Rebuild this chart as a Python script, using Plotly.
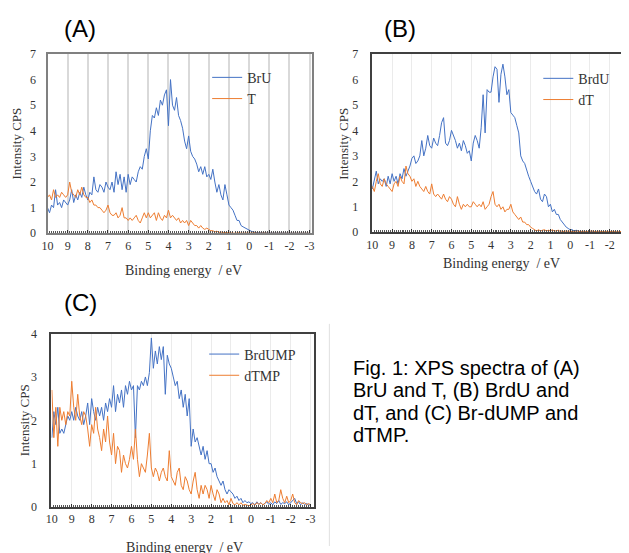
import numpy as np
import plotly.graph_objects as go

# binding energy grid, 10 eV down to -3 eV in 0.1 eV steps
energy = np.round(np.linspace(10, -3, 131), 1)
tick_vals = [10, 9, 8, 7, 6, 5, 4, 3, 2, 1, 0, -1, -2, -3]
tick_text = ["10", "9", "8", "7", "6", "5", "4", "3", "2", "1", "0", "-1", "-2", "-3"]

# (A) BrU and T
bru = [1.0, 0.8, 1.1, 1.0, 1.7, 1.1, 1.2, 1.0, 1.3, 1.2,
       1.1, 1.3, 1.7, 1.2, 1.5, 1.3, 1.6, 1.4, 1.8, 1.5,
       1.3, 1.6, 1.5, 2.2, 1.7, 1.6, 1.9, 1.8, 1.6, 2.0,
       1.8, 1.7, 2.0, 1.6, 2.4, 1.9, 2.3, 1.7, 2.2, 1.6,
       2.3, 1.9, 2.2, 2.1, 2.0, 2.4, 2.6, 2.5, 3.0, 3.3,
       2.9, 4.0, 4.6, 4.5, 4.9, 4.6, 5.2, 5.0, 5.4, 5.6,
       4.2, 6.0, 5.0, 4.8, 5.3, 4.6, 4.4, 4.1, 3.6, 3.3,
       3.8, 3.2, 3.0, 2.9, 2.7, 2.4, 2.6, 2.3, 2.6, 2.2,
       2.3, 2.1, 2.5, 2.0, 1.6, 1.9, 1.5, 1.3, 1.9, 1.5,
       1.1, 1.0, 0.9, 0.7, 0.5, 0.5, 0.3, 0.25, 0.2, 0.15,
       0.1, 0.08, 0.05, 0.03, 0.02, 0.02, 0.01, 0.02, 0.01, 0.01,
       0.01, 0.0, 0.01, 0.0, 0.01, 0.0, 0.01, 0.0, 0.0, 0.01,
       0.0, 0.01, 0.0, 0.0, 0.01, 0.0, 0.0, 0.01, 0.0, 0.0,
       0.0]
t = [1.4, 1.5, 1.3, 1.7, 1.4, 1.5, 1.4, 1.6, 1.5, 1.4,
     1.5, 2.0, 1.6, 1.5, 1.4, 1.7, 1.5, 1.8, 1.5, 1.4,
     1.4, 1.2, 1.3, 1.1, 1.1, 1.0, 1.0, 0.9, 0.8, 0.9,
     1.1, 0.8, 0.7, 0.7, 0.8, 0.6, 0.7, 1.0, 0.6, 0.6,
     0.5, 0.6, 0.5, 0.6, 0.7, 0.5, 0.4, 0.6, 0.8, 0.6,
     0.8, 0.6, 0.7, 0.8, 0.5, 0.8, 0.6, 0.5, 0.7, 0.6,
     0.9, 0.6, 0.7, 0.6, 0.5, 0.6, 0.4, 0.5, 0.4, 0.5,
     0.3, 0.5, 0.4, 0.3, 0.3, 0.2, 0.3, 0.2, 0.15, 0.2,
     0.15, 0.1, 0.1, 0.05, 0.08, 0.03, 0.05, 0.02, 0.03, 0.02,
     0.02, 0.01, 0.02, 0.0, 0.01, 0.02, 0.0, 0.01, 0.0, 0.01,
     0.0, 0.01, 0.0, 0.02, 0.0, 0.01, 0.0, 0.0, 0.01, 0.0,
     0.0, 0.01, 0.0, 0.0, 0.01, 0.0, 0.0, 0.01, 0.0, 0.0,
     0.01, 0.0, 0.0, 0.01, 0.0, 0.0, 0.01, 0.0, 0.0, 0.0,
     0.0]

# (B) BrdU and dT
brdu = [1.7, 2.0, 2.4, 1.9, 2.1, 2.0, 2.1, 1.8, 2.2, 1.9,
        2.3, 2.0, 2.2, 1.9, 2.3, 2.1, 2.5, 2.2, 2.4, 2.6,
        2.9, 3.0, 2.7, 2.8, 3.0, 3.6, 3.0, 3.3, 3.8, 3.4,
        3.3, 3.7, 3.5, 3.4, 3.8, 4.3, 4.5, 3.5, 3.4, 3.6,
        4.0, 3.8, 3.6, 3.3, 3.5, 3.2, 3.6, 3.4, 3.1, 3.2,
        2.8, 3.5, 3.8, 3.6, 3.3, 4.1, 5.4, 3.9, 5.6, 5.5,
        5.5, 6.1, 6.5, 6.4, 5.1, 6.2, 6.6, 6.1, 5.4, 5.6,
        4.7, 4.6, 4.5, 4.2, 3.9, 3.0, 2.8, 2.7, 2.4, 2.2,
        2.0, 1.8, 1.6, 1.5, 1.7, 1.3, 1.2, 1.5, 1.4, 1.0,
        1.1, 0.8, 0.9, 0.7, 0.7, 0.5, 0.4, 0.3, 0.2, 0.15,
        0.1, 0.1, 0.05, 0.08, 0.04, 0.03, 0.02, 0.03, 0.02, 0.01,
        0.02, 0.01, 0.02, 0.0, 0.01, 0.02, 0.0, 0.01, 0.01, 0.0,
        0.01, 0.0, 0.01, 0.0, 0.01, 0.0, 0.0, 0.01, 0.0, 0.0,
        0.0]
dt = [1.8, 1.6, 2.0, 2.3, 1.9, 1.8, 2.1, 1.9, 1.8, 1.7,
      1.6, 1.9, 2.0, 1.8, 2.2, 2.0, 1.9, 2.6, 2.3, 2.2,
      2.0, 2.1, 1.8, 2.0, 1.8, 1.7, 1.6, 1.8, 1.6, 1.5,
      1.9, 1.5, 1.4, 1.5, 1.4, 1.3, 1.5, 1.3, 1.2, 1.4,
      1.3, 1.1, 1.0, 1.4, 1.1, 0.9, 1.1, 1.0, 1.1, 1.0,
      1.0, 1.2, 1.1, 1.0, 1.1, 1.0, 1.2, 0.9, 1.0, 1.1,
      1.4, 1.6, 1.1, 1.0, 1.1, 0.9, 1.0, 0.8, 0.9, 0.9,
      1.1, 0.8, 0.7, 0.6, 0.5, 0.6, 0.4, 0.4, 0.3, 0.3,
      0.2, 0.15, 0.1, 0.05, 0.1, 0.05, 0.08, 0.1, 0.05, 0.08,
      0.05, 0.1, 0.04, 0.05, 0.08, 0.03, 0.05, 0.02, 0.06, 0.03,
      0.05, 0.02, 0.04, 0.03, 0.05, 0.02, 0.03, 0.04, 0.02, 0.03,
      0.02, 0.05, 0.03, 0.02, 0.04, 0.02, 0.03, 0.02, 0.04, 0.02,
      0.03, 0.02, 0.04, 0.02, 0.03, 0.02, 0.03, 0.02, 0.02, 0.02,
      0.02]

# (C) BrdUMP and dTMP
brdump = [1.6, 2.2, 1.9, 2.3, 1.7, 1.8, 1.7, 1.9, 2.1, 2.0,
          2.2, 2.0, 2.3, 2.1, 2.0, 2.2, 1.9, 2.1, 2.4, 1.9,
          2.5, 2.2, 2.0, 2.3, 2.1, 2.3, 2.0, 2.4, 2.2, 2.5,
          2.3, 2.8, 2.2, 2.6, 2.4, 2.7, 2.3, 2.8, 2.6, 2.9,
          2.7, 2.8, 1.6, 2.8, 2.7, 2.9, 2.8, 3.0, 2.8, 3.1,
          3.9, 3.2, 3.6, 3.3, 3.7, 3.4, 3.7, 2.6, 3.5, 3.3,
          3.2, 3.0, 2.8, 2.9, 2.5, 2.7, 2.3, 2.6, 2.1, 2.5,
          1.4, 1.8, 1.5, 1.6, 1.4, 1.2, 1.4, 1.1, 1.3, 1.0,
          1.0, 0.8, 0.9, 0.7, 0.6, 0.5, 0.6, 0.4, 0.3, 0.4,
          0.35, 0.3, 0.2, 0.25, 0.15, 0.2, 0.1, 0.15, 0.1, 0.12,
          0.08, 0.1, 0.05, 0.12, 0.06, 0.1, 0.05, 0.08, 0.12, 0.06,
          0.1, 0.05, 0.12, 0.08, 0.15, 0.06, 0.1, 0.08, 0.12, 0.05,
          0.1, 0.15, 0.2, 0.08, 0.12, 0.05, 0.1, 0.06, 0.08, 0.05,
          0.05]
dtmp = [2.7, 1.6, 2.3, 1.4, 2.3, 2.0, 2.2, 1.9, 2.2, 2.1,
        2.9, 2.3, 2.0, 2.6, 2.1, 1.9, 2.2, 2.1, 1.8, 1.4,
        1.9, 1.7, 2.3, 1.8, 1.6, 1.3, 1.8, 1.5, 2.1, 1.5,
        1.2, 1.7, 1.0, 1.4, 1.3, 0.8, 1.2, 1.0, 0.9, 1.1,
        1.4, 1.1, 1.8, 1.1, 0.7, 1.0, 0.9, 0.8, 1.2, 1.7,
        0.9, 0.7, 0.9, 0.8, 0.6, 0.8, 0.9, 0.7, 0.6, 1.3,
        0.7, 0.6, 0.5, 0.8, 0.9, 0.5, 0.4, 0.7, 0.6, 0.4,
        0.3, 0.6, 0.8, 0.4, 0.2, 0.5, 0.3, 0.5, 0.4, 0.2,
        0.5, 0.3, 0.15, 0.4, 0.3, 0.1, 0.2, 0.1, 0.15, 0.05,
        0.2, 0.08, 0.05, 0.1, 0.05, 0.1, 0.04, 0.06, 0.05, 0.03,
        0.05, 0.08, 0.04, 0.1, 0.06, 0.1, 0.05, 0.08, 0.15, 0.1,
        0.2, 0.1, 0.3, 0.1, 0.15, 0.4, 0.2, 0.1, 0.25, 0.1,
        0.15, 0.3, 0.1, 0.05, 0.15, 0.1, 0.08, 0.1, 0.05, 0.08,
        0.05]

caption = ["Fig. 1: XPS spectra of (A)", "BrU and T, (B) BrdU and",
           "dT, and (C) Br-dUMP and", "dTMP."]

for s in (bru, t, brdu, dt, brdump, dtmp):
    assert len(s) == len(energy), len(s)

BLUE = "#4472C4"
ORANGE = "#ED7D31"
SERIF = "Liberation Serif"
SANS = "Liberation Sans"
# the page body keeps its default 8px margin, so the figure is drawn 8px in
OFF = 8
W, H = 629 - OFF, 553 - OFF


def px(x):
    return (x - OFF) / W


def py(y):
    return 1 - (y - OFF) / H


fig = go.Figure()
panels = [
    ("x", "y", "legend", bru, t, "BrU", "T"),
    ("x2", "y2", "legend2", brdu, dt, "BrdU", "dT"),
    ("x3", "y3", "legend3", brdump, dtmp, "BrdUMP", "dTMP"),
]
for xa, ya, lg, blue, orange, nb, no in panels:
    fig.add_trace(go.Scatter(x=energy, y=blue, name=nb, mode="lines", xaxis=xa, yaxis=ya,
                             legend=lg, line=dict(color=BLUE, width=1)))
    fig.add_trace(go.Scatter(x=energy, y=orange, name=no, mode="lines", xaxis=xa, yaxis=ya,
                             legend=lg, line=dict(color=ORANGE, width=1)))


def xaxis(domain, rng, anchor, frame, gridcolor, gridwidth):
    return dict(domain=domain, range=rng, anchor=anchor, tickmode="array",
                tickvals=tick_vals, ticktext=tick_text,
                showgrid=True, gridcolor=gridcolor, gridwidth=gridwidth, zeroline=False,
                showline=True, linecolor=frame, linewidth=2, mirror=True,
                ticks="inside", ticklen=3, tickcolor="#333",
                minor=dict(dtick=0.1, tick0=0, ticks="inside", ticklen=2, tickcolor="#555",
                           showgrid=False),
                tickfont=dict(family=SERIF, size=12, color="#333"))


def yaxis(domain, rng, anchor, frame, standoff, mirror=True):
    return dict(domain=domain, range=rng, anchor=anchor, dtick=1, showgrid=False,
                zeroline=False, showline=True, linecolor=frame, linewidth=2, mirror=mirror,
                ticks="", ticklabelstandoff=standoff,
                tickfont=dict(family=SERIF, size=12, color="#333"))


legend_font = dict(family=SERIF, size=14, color="#333")
fig.update_layout(
    width=W, height=H, margin=dict(l=0, r=0, t=0, b=0),
    paper_bgcolor="white", plot_bgcolor="white",
    xaxis=xaxis([px(42), px(310)], [10.0, -3.1], "y", "#808080", "#d9d9d9", 2),
    yaxis=yaxis([py(232), py(48)], [0, 7], "x", "#808080", 7),
    xaxis2=xaxis([px(371), 1.0], [10.03, -2.82], "y2", "#404040", "#ebebeb", 1),
    yaxis2=yaxis([py(231), py(48)], [0, 7], "x2", "#404040", 9, mirror=False),
    xaxis3=xaxis([px(46), px(312)], [10.02, -3.15], "y3", "#404040", "#ebebeb", 1),
    yaxis3=yaxis([py(513), py(335)], [0, 4], "x3", "#404040", 10),
    legend=dict(x=px(204), y=py(56), xanchor="left", yanchor="top",
                bgcolor="rgba(0,0,0,0)", font=legend_font),
    legend2=dict(x=px(540), y=py(57), xanchor="left", yanchor="top",
                 bgcolor="rgba(0,0,0,0)", font=legend_font),
    legend3=dict(x=px(201), y=py(340), xanchor="left", yanchor="top",
                 bgcolor="rgba(0,0,0,0)", font=legend_font),
    showlegend=True,
)

ann = []
for label, x, y in [("(A)", 75, 22), ("(B)", 400, 22), ("(C)", 75, 303)]:
    ann.append(dict(text=label, x=px(x), y=py(y), xref="paper", yref="paper", showarrow=False,
                    xanchor="center", yanchor="middle", font=dict(family=SANS, size=24, color="black")))
for x, y in [(180, 270), (503, 263), (181, 555)]:
    ann.append(dict(text="Binding energy  / eV", x=px(x), y=py(y), xref="paper", yref="paper",
                    showarrow=False, xanchor="center", yanchor="middle",
                    font=dict(family=SERIF, size=14, color="#333")))
for x, y in [(11, 140), (342, 140), (18, 424)]:
    ann.append(dict(text="Intensity CPS", x=px(x), y=py(y), xref="paper", yref="paper",
                    showarrow=False, textangle=-90, xanchor="center", yanchor="middle",
                    font=dict(family=SERIF, size=13, color="#333")))
for line, y in zip(caption, [370, 393, 416, 439]):
    ann.append(dict(text=line, x=px(350), y=py(y), xref="paper", yref="paper", showarrow=False,
                    xanchor="left", yanchor="middle", align="left",
                    font=dict(family=SANS, size=20, color="black")))
fig.update_layout(annotations=ann)

fig.add_shape(type="line", xref="paper", yref="paper", x0=px(328), x1=px(328), y0=0, y1=py(325),
              line=dict(color="#e0e0e0", width=1))

fig.write_html("out.html")
